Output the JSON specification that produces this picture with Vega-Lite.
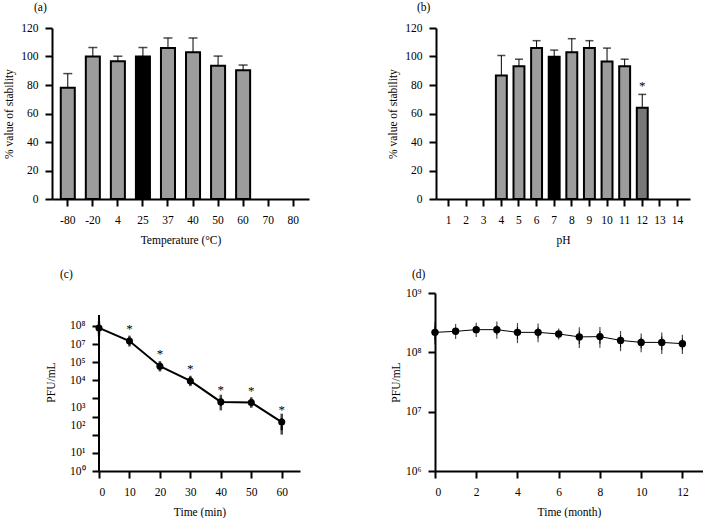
{
  "$schema": "https://vega.github.io/schema/vega-lite/v6.json",
  "background": "white",
  "padding": {"left": 2, "top": 1, "right": 0, "bottom": 0},
  "config": {
    "view": {"stroke": null},
    "font": "Liberation Serif",
    "axis": {
      "domainColor": "black", "domainWidth": 2, "tickColor": "black", "tickWidth": 2, "tickSize": 7,
      "labelFont": "Liberation Serif", "labelFontSize": 11.5, "labelColor": "black", "labelPadding": 7,
      "titleFont": "Liberation Serif", "titleFontSize": 11.5, "titleFontWeight": "normal", "titleColor": "black",
      "titlePadding": 6, "grid": false, "labelOverlap": false
    },
    "title": {"font": "Liberation Serif", "fontSize": 11.5, "fontWeight": "normal", "anchor": "start", "frame": "group", "color": "black"}
  },
  "spacing": 22,
  "vconcat": [
    {
      "spacing": 0,
      "hconcat": [
        {"width": 1, "height": 1, "data": {"values": []}, "mark": "point", "encoding": {}},
        {
          "width": 257, "height": 171,
          "title": {"text": "(a)", "dx": -18, "offset": 9},
          "data": {"values": [
            {"temperature": "-80", "stability": 78, "high": 88, "condition": "sample"},
            {"temperature": "-20", "stability": 100, "high": 106.3, "condition": "sample"},
            {"temperature": "4", "stability": 96.7, "high": 100.2, "condition": "sample"},
            {"temperature": "25", "stability": 100, "high": 106.3, "condition": "control"},
            {"temperature": "37", "stability": 106, "high": 113, "condition": "sample"},
            {"temperature": "40", "stability": 103, "high": 113, "condition": "sample"},
            {"temperature": "50", "stability": 93.5, "high": 100.3, "condition": "sample"},
            {"temperature": "60", "stability": 90.3, "high": 94, "condition": "sample"}
          ]},
          "encoding": {
            "x": {"field": "temperature", "type": "ordinal", "title": "Temperature (°C)",
              "scale": {"domain": ["-80","-20","4","25","37","40","50","60","70","80"], "paddingInner": 0.44, "paddingOuter": 0.35},
              "axis": {"labelAngle": 0, "labelPadding": 8, "titlePadding": 9}},
            "y": {"field": "stability", "type": "quantitative", "title": "% value of stability",
              "scale": {"domain": [0, 120], "nice": false},
              "axis": {"values": [0,20,40,60,80,100,120]}}
          },
          "layer": [
            {"mark": {"type": "rule", "color": "black", "strokeWidth": 1},
             "encoding": {"y2": {"field": "high"}}},
            {"mark": {"type": "tick", "color": "black", "thickness": 1.5, "size": 9},
             "encoding": {"y": {"field": "high", "type": "quantitative"}}},
            {"mark": {"type": "bar", "stroke": "black", "strokeWidth": 2},
             "encoding": {
               "fill": {"field": "condition", "type": "nominal", "legend": null,
                 "scale": {"domain": ["control","sample","significant"], "range": ["#000000","#9c9c9c","#777777"]}}
             }}
          ]
        },
        {"width": 78, "height": 1, "data": {"values": []}, "mark": "point", "encoding": {}},
        {
          "width": 254, "height": 171,
          "title": {"text": "(b)", "dx": -19, "offset": 9},
          "data": {"values": [
            {"pH": 4, "stability": 86.6, "high": 100.7, "condition": "sample", "sig": ""},
            {"pH": 5, "stability": 93.2, "high": 98.1, "condition": "sample", "sig": ""},
            {"pH": 6, "stability": 105.9, "high": 111.1, "condition": "sample", "sig": ""},
            {"pH": 7, "stability": 99.8, "high": 104.5, "condition": "control", "sig": ""},
            {"pH": 8, "stability": 103, "high": 112.5, "condition": "sample", "sig": ""},
            {"pH": 9, "stability": 105.9, "high": 111.1, "condition": "sample", "sig": ""},
            {"pH": 10, "stability": 96.5, "high": 105.9, "condition": "sample", "sig": ""},
            {"pH": 11, "stability": 93.2, "high": 98.1, "condition": "sample", "sig": ""},
            {"pH": 12, "stability": 64, "high": 73.4, "condition": "significant", "sig": "*"}
          ]},
          "encoding": {
            "x": {"field": "pH", "type": "ordinal", "title": "pH",
              "scale": {"domain": [1,2,3,4,5,6,7,8,9,10,11,12,13,14], "paddingInner": 0.38, "paddingOuter": 0.4},
              "axis": {"labelAngle": 0, "labelPadding": 8, "titlePadding": 9}},
            "y": {"field": "stability", "type": "quantitative", "title": "% value of stability",
              "scale": {"domain": [0, 120], "nice": false},
              "axis": {"values": [0,20,40,60,80,100,120]}}
          },
          "layer": [
            {"mark": {"type": "rule", "color": "black", "strokeWidth": 1},
             "encoding": {"y2": {"field": "high"}}},
            {"mark": {"type": "tick", "color": "black", "thickness": 1.5, "size": 8},
             "encoding": {"y": {"field": "high", "type": "quantitative"}}},
            {"mark": {"type": "bar", "stroke": "black", "strokeWidth": 2},
             "encoding": {
               "fill": {"field": "condition", "type": "nominal", "legend": null,
                 "scale": {"domain": ["control","sample","significant"], "range": ["#000000","#9c9c9c","#777777"]}}
             }},
            {"mark": {"type": "text", "fontSize": 13, "dy": -1, "baseline": "bottom", "color": "black"},
             "encoding": {"y": {"field": "high", "type": "quantitative"}, "text": {"field": "sig"}}}
          ]
        }
      ]
    },
    {
      "spacing": 0,
      "hconcat": [
        {"width": 43, "height": 1, "data": {"values": []}, "mark": "point", "encoding": {}},
        {
          "width": 201, "height": 178,
          "title": {"text": "(c)", "dx": -39, "offset": 13},
          "data": {"values": [
            {"time": 0, "pfu": 78000000, "low": 53000000, "high": 103000000, "sig": ""},
            {"time": 10, "pfu": 14800000, "low": 13000000, "high": 16600000, "sig": "*"},
            {"time": 20, "pfu": 600000, "low": 550000, "high": 650000, "sig": "*"},
            {"time": 30, "pfu": 93000, "low": 85000, "high": 101000, "sig": "*"},
            {"time": 40, "pfu": 6500, "low": 3900, "high": 9100, "sig": "*"},
            {"time": 50, "pfu": 6000, "low": 5400, "high": 6600, "sig": "*"},
            {"time": 60, "pfu": 500, "low": 180, "high": 820, "sig": "*"}
          ]},
          "encoding": {
            "x": {"field": "time", "type": "quantitative", "title": "Time (min)",
              "scale": {"domain": [0, 66], "nice": false},
              "axis": {"values": [0,10,20,30,40,50,60], "labelPadding": 8, "titlePadding": 9}},
            "y": {"field": "pfu", "type": "quantitative", "title": "PFU/mL",
              "scale": {"type": "log", "domain": [1, 6600000000], "nice": false},
              "axis": {"values": [1,10,100,1000,10000,100000,1000000,10000000,100000000],
                "domain": false,
                "labelExpr": "['10⁰','10¹','10²','10³','','10⁴','10⁵','10⁷','10⁸'][round(log(datum.value)/LN10)]",
                "labelOffset": {"condition": {"test": "datum.value == 100 || datum.value == 1000", "value": -9}, "value": 0},
                "titlePadding": 13}}
          },
          "layer": [
            {"mark": {"type": "rule", "color": "black", "strokeWidth": 2},
             "encoding": {"x": {"datum": 0}, "y": {"datum": 1}, "y2": {"datum": 405000000}}},
            {"mark": {"type": "rule", "color": "black", "strokeWidth": 2},
             "encoding": {"y": {"field": "low", "type": "quantitative"}, "y2": {"field": "high"}}},
            {"mark": {"type": "tick", "color": "black", "thickness": 2.5, "size": 9},
             "encoding": {"y": {"field": "low", "type": "quantitative"}}},
            {"mark": {"type": "tick", "color": "black", "thickness": 2.5, "size": 9},
             "encoding": {"y": {"field": "high", "type": "quantitative"}}},
            {"mark": {"type": "line", "color": "black", "strokeWidth": 2}},
            {"mark": {"type": "point", "filled": true, "color": "black", "opacity": 1, "size": 50}},
            {"mark": {"type": "text", "fontSize": 13, "dy": -5, "baseline": "bottom", "color": "black"},
             "encoding": {"text": {"field": "sig"}}}
          ]
        },
        {"width": 90, "height": 1, "data": {"values": []}, "mark": "point", "encoding": {}},
        {
          "width": 268, "height": 178,
          "title": {"text": "(d)", "dx": -23, "offset": 7},
          "data": {"values": [
            {"month": 0, "pfu": 217000000, "low": 160000000, "high": 274000000},
            {"month": 1, "pfu": 226000000, "low": 196000000, "high": 256000000},
            {"month": 2, "pfu": 241000000, "low": 211000000, "high": 271000000},
            {"month": 3, "pfu": 241000000, "low": 198000000, "high": 284000000},
            {"month": 4, "pfu": 217000000, "low": 167000000, "high": 267000000},
            {"month": 5, "pfu": 217000000, "low": 172000000, "high": 262000000},
            {"month": 6, "pfu": 204000000, "low": 192000000, "high": 216000000},
            {"month": 7, "pfu": 182000000, "low": 138000000, "high": 226000000},
            {"month": 8, "pfu": 184000000, "low": 139000000, "high": 229000000},
            {"month": 9, "pfu": 159000000, "low": 122000000, "high": 196000000},
            {"month": 10, "pfu": 147000000, "low": 117000000, "high": 177000000},
            {"month": 11, "pfu": 147000000, "low": 109000000, "high": 185000000},
            {"month": 12, "pfu": 140000000, "low": 110000000, "high": 170000000}
          ]},
          "encoding": {
            "x": {"field": "month", "type": "quantitative", "title": "Time (month)",
              "scale": {"domain": [0, 13], "nice": false},
              "axis": {"values": [0,2,4,6,8,10,12], "labelPadding": 8, "titlePadding": 9}},
            "y": {"field": "pfu", "type": "quantitative", "title": "PFU/mL",
              "scale": {"type": "log", "domain": [1000000, 1000000000], "nice": false},
              "axis": {"values": [1000000,10000000,100000000,1000000000],
                "labelExpr": "'10' + ['⁶','⁷','⁸','⁹'][round(log(datum.value)/LN10) - 6]",
                "titlePadding": 4}}
          },
          "layer": [
            {"mark": {"type": "rule", "color": "black", "strokeWidth": 1},
             "encoding": {"y": {"field": "low", "type": "quantitative"}, "y2": {"field": "high"}}},
            {"mark": {"type": "tick", "color": "black", "thickness": 1.2, "size": 8},
             "encoding": {"y": {"field": "low", "type": "quantitative"}}},
            {"mark": {"type": "tick", "color": "black", "thickness": 1.2, "size": 8},
             "encoding": {"y": {"field": "high", "type": "quantitative"}}},
            {"mark": {"type": "line", "color": "black", "strokeWidth": 1}},
            {"mark": {"type": "point", "filled": true, "color": "black", "opacity": 1, "size": 55}}
          ]
        }
      ]
    }
  ]
}
